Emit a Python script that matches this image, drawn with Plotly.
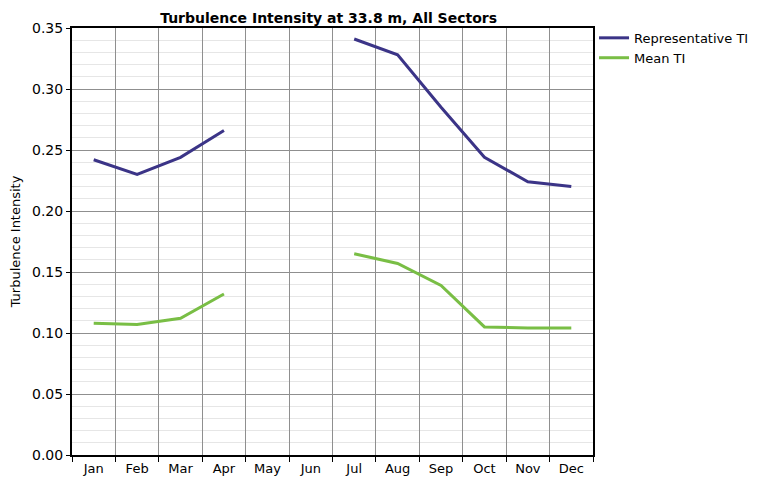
import plotly.graph_objects as go

# du lieu doc tu hinh
thang = ["Jan", "Feb", "Mar", "Apr", "May", "Jun", "Jul", "Aug", "Sep", "Oct", "Nov", "Dec"]
ti_dai_dien = [0.242, 0.230, 0.244, 0.266, None, None, 0.341, 0.328, 0.285, 0.244, 0.224, 0.220]
ti_trung_binh = [0.108, 0.107, 0.112, 0.132, None, None, 0.165, 0.157, 0.139, 0.105, 0.104, 0.104]

fig = go.Figure()
fig.add_trace(go.Scatter(x=thang, y=ti_dai_dien, mode="lines", name="Representative TI",
                         line=dict(color="#3b3487", width=3), connectgaps=False))
fig.add_trace(go.Scatter(x=thang, y=ti_trung_binh, mode="lines", name="Mean TI",
                         line=dict(color="#79be45", width=3), connectgaps=False))

# trang html co le 8px nen bu lai trong margin
fig.update_layout(
    width=767, height=481,
    margin=dict(l=64, r=182, t=20, b=34),
    paper_bgcolor="white", plot_bgcolor="white",
    font=dict(family="DejaVu Sans", size=13, color="black"),
    title=dict(text="<b>Turbulence Intensity at 33.8 m, All Sectors</b>",
               x=0.418, xanchor="center", y=0.99, yanchor="top",
               font=dict(size=14, family="DejaVu Sans")),
    legend=dict(x=1.002, y=1.012, xanchor="left", yanchor="top", font=dict(size=13),
                bgcolor="rgba(0,0,0,0)", tracegroupgap=0, itemwidth=30),
)
# truc x: luoi o ranh gioi cac thang
fig.update_xaxes(
    type="category", range=[-0.5, 11.5], tickson="boundaries", automargin=False,
    showgrid=True, gridcolor="#8f8f8f", gridwidth=1,
    ticks="outside", ticklen=5, tickcolor="black", tickfont=dict(size=13),
    showline=True, linecolor="black", linewidth=2, mirror=True,
)
# truc y
fig.update_yaxes(
    range=[0, 0.35], dtick=0.05, tickformat=".2f", automargin=False,
    title=dict(text="Turbulence Intensity", font=dict(size=13), standoff=10),
    showgrid=True, gridcolor="#8f8f8f", gridwidth=1,
    minor=dict(dtick=0.01, showgrid=True, gridcolor="#e6e6e6"),
    ticks="outside", ticklen=4, tickcolor="black", tickfont=dict(size=14),
    showline=True, linecolor="black", linewidth=2, mirror=True, zeroline=False,
)

fig.write_html("out.html")
